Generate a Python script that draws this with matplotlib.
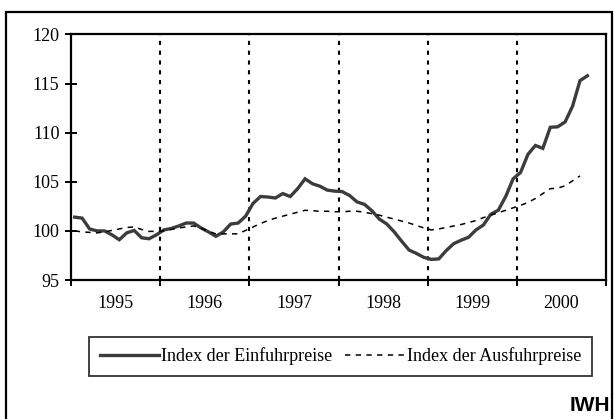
import matplotlib
matplotlib.use("Agg")
import matplotlib.pyplot as plt
from matplotlib.patches import Rectangle
import numpy as np

years = ["1995", "1996", "1997", "1998", "1999", "2000"]

einfuhr = [101.4, 101.3, 100.2, 100.0, 100.0, 99.6, 99.1, 99.8, 100.05, 99.3, 99.2, 99.6,
           100.1, 100.25, 100.5, 100.8, 100.8, 100.3, 99.9, 99.45, 99.9, 100.7, 100.8, 101.5,
           102.8, 103.5, 103.45, 103.35, 103.8, 103.5, 104.3, 105.3, 104.8, 104.55, 104.15, 104.05,
           104.0, 103.6, 102.95, 102.7, 102.05, 101.2, 100.7, 99.9, 98.95, 98.05, 97.7, 97.3,
           97.1, 97.15, 98.0, 98.7, 99.05, 99.35, 100.1, 100.6, 101.7, 102.1, 103.5, 105.3,
           105.95, 107.8, 108.7, 108.4, 110.55, 110.6, 111.1, 112.7, 115.3, 115.8]

ausfuhr = [100.0, 99.9, 99.85, 99.8, 99.9, 100.05, 100.2, 100.35, 100.4, 100.15, 99.95, 99.95,
           100.0, 100.15, 100.3, 100.4, 100.5, 100.3, 99.95, 99.7, 99.7, 99.7, 99.7, 100.05,
           100.4, 100.75, 101.05, 101.3, 101.5, 101.7, 101.9, 102.1, 102.05, 102.0, 102.0, 101.95,
           101.95, 102.0, 102.0, 101.9, 101.75, 101.6, 101.4, 101.2, 101.0, 100.8, 100.55, 100.3,
           100.1, 100.2, 100.35, 100.5, 100.65, 100.85, 101.05, 101.35, 101.6, 101.85, 102.1, 102.35,
           102.6, 102.9, 103.3, 103.8, 104.3, 104.35, 104.6, 105.1, 105.6]

label_ein = "Index der Einfuhrpreise"
label_aus = "Index der Ausfuhrpreise"

plt.rcParams['font.family'] = ['Liberation Serif', 'DejaVu Serif']

W, H = 614, 419
fig = plt.figure(figsize=(W / 100, H / 100), dpi=100)

# outer frame
fig.patches.append(Rectangle((6 / W, -0.02), 606 / W, (H - 12) / H + 0.02,
                             transform=fig.transFigure, fill=False,
                             edgecolor='black', linewidth=1.6))

ax = fig.add_axes([71 / W, (H - 280) / H, (606 - 71) / W, (280 - 34.5) / H])

x_e = np.arange(len(einfuhr)) + 0.5
x_a = np.arange(len(ausfuhr)) + 0.5
l1, = ax.plot(x_e, einfuhr, color='#3c3c3c', linewidth=2.4, solid_joinstyle='miter',
              label=label_ein, zorder=3)
l2, = ax.plot(x_a, ausfuhr, color='black', linewidth=1.1, linestyle=(0, (3.5, 3.5)),
              label=label_aus, zorder=3)

ax.set_xlim(0, 72)
ax.set_ylim(95, 120)

# vertical year separators
for b in range(12, 72, 12):
    ax.axvline(b, color='black', linewidth=1.5, linestyle=(0, (2, 2.7)), zorder=1)

ax.set_xticks(np.arange(0, 73, 12))
ax.set_xticklabels([])
ax.set_xticks(np.arange(6, 72, 12), minor=True)
ax.set_xticklabels(years, minor=True)
ax.tick_params(axis='x', which='major', direction='out', length=4.5, width=1.4)
ax.tick_params(axis='x', which='minor', length=0, pad=11, labelsize=13)

ax.set_yticks(np.arange(95, 121, 5))
ax.tick_params(axis='y', which='major', direction='inout', length=8.6, width=1.4,
               pad=4, labelsize=13)

for s in ax.spines.values():
    s.set_linewidth(1.6)

fig.legend(handles=[l1, l2], loc='center', ncol=2,
           bbox_to_anchor=(89 / W, 1 - 378 / H, (592 - 89) / W, 43 / H),
           mode='expand', frameon=True, fancybox=False, edgecolor='black',
           fontsize=13, handlelength=3.3, handletextpad=0.1, columnspacing=1.2,
           borderaxespad=0, borderpad=0.6)
leg = fig.legends[0]
leg.get_frame().set_linewidth(1.3)

fig.text(610 / W, 1 - 411 / H, "IWH", ha='right', va='baseline',
         family=['Liberation Sans', 'DejaVu Sans'], fontweight='bold', fontsize=15)

fig.savefig("out.png", dpi=100)
